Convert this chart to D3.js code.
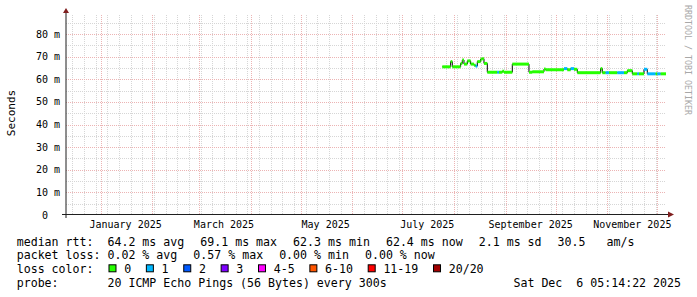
<!DOCTYPE html>
<html>
<head>
<meta charset="utf-8">
<script src="https://cdn.jsdelivr.net/npm/d3@7"></script>
<style>
  body { margin: 0; background: #ffffff; }
  svg text { font-family: "DejaVu Sans Mono", monospace; fill: #000; white-space: pre; }
</style>
</head>
<body>
<div id="chart"></div>
<script>
// median rtt, one entry per run: the value holds until the next start
const runStarts = [
  "2025-07-25", "2025-07-30", "2025-07-31", "2025-08-05", "2025-08-06", "2025-08-07",
  "2025-08-09", "2025-08-11", "2025-08-13", "2025-08-14", "2025-08-15", "2025-08-17",
  "2025-08-18", "2025-08-19", "2025-08-21", "2025-08-27", "2025-08-28", "2025-08-30",
  "2025-08-31", "2025-09-05", "2025-09-15", "2025-09-17", "2025-09-24", "2025-09-25",
  "2025-10-06", "2025-10-08", "2025-10-10", "2025-10-12", "2025-10-14", "2025-10-28",
  "2025-10-29", "2025-10-31", "2025-11-02", "2025-11-07", "2025-11-11", "2025-11-13",
  "2025-11-16", "2025-11-19", "2025-11-20", "2025-11-23", "2025-11-25", "2025-11-30",
  "2025-12-01", "2025-12-03"
];
const medianMs = [
  65.5, 67.8, 65.5, 67.0, 68.5, 66.7,
  68.1, 66.7, 66.2, 65.8, 67.8, 68.9,
  69.1, 67.0, 63.1, 63.1, 63.1, 63.5,
  63.1, 66.7, 63.1, 63.3, 64.5, 64.2,
  64.7, 64.2, 64.7, 64.4, 62.9, 64.7,
  62.9, 62.9, 62.9, 62.9, 62.9, 63.8,
  62.4, 62.4, 62.4, 64.4, 62.4, 62.4,
  62.4, 62.4
];
// pings lost (of 20) in each run
const lostPings = [
  0, 0, 0, 0, 0, 0,
  0, 0, 0, 1, 0, 0,
  0, 0, 0, 1, 0, 0,
  0, 0, 0, 0, 0, 0,
  1, 0, 1, 0, 0, 0,
  0, 1, 0, 1, 0, 0,
  0, 1, 0, 1, 1, 0,
  1, 0
];

const graphStart = "2024-12-11T05:14:22Z";
const graphEnd = "2025-12-06T05:14:22Z";
const yMax = 88.4;

const yTicks = [0, 10, 20, 30, 40, 50, 60, 70, 80];
const yTickLabels = ["0  ", "10 m", "20 m", "30 m", "40 m", "50 m", "60 m", "70 m", "80 m"];
const xLabelMonths = ["2025-01-01", "2025-03-01", "2025-05-01", "2025-07-01", "2025-09-01", "2025-11-01"];
const xTickLabels = ["January 2025", "March 2025", "May 2025", "July 2025", "September 2025", "November 2025"];

const rttStats = [64.2, 69.1, 62.3, 62.4, 2.1];
const rttStatNames = ["avg", "max", "min", "now", "sd"];
const amPerSec = 30.5;
const lossStats = [0.02, 0.57, 0.0, 0.0];
const lossStatNames = ["avg", "max", "min", "now"];
const lossLabels = ["0", "1", "2", "3", "4-5", "6-10", "11-19", "20/20"];
const lossColors = ["#26ff00", "#00b8ff", "#0059ff", "#7e00ff", "#ff00ff", "#ff5500", "#ff0000", "#a10000"];
const probeText = "20 ICMP Echo Pings (56 Bytes) every 300s";
const stampText = "Sat Dec  6 05:14:22 2025";

function lossBucket(n) {
  if (n <= 3) return n;
  if (n <= 5) return 4;
  if (n <= 10) return 5;
  if (n <= 19) return 6;
  return 7;
}

class SmokeGraph {
  constructor(_config) {
    this.config = {
      parentElement: _config.parentElement || "#chart",
      containerWidth: _config.containerWidth || 697,
      containerHeight: _config.containerHeight || 297,
      margin: _config.margin || { top: 15, left: 66, right: 31 },
      plotHeight: 200,
      gridColor: "#d6d6d6",
      majorGridColor: "#ecb4b4",
      arrowColor: "#801f1f",
      axisColor: "#1f1f1f",
    };
    this.init();
  }

  init() {
    let vis = this;
    vis.width = vis.config.containerWidth - vis.config.margin.left - vis.config.margin.right;
    vis.bottom = vis.config.margin.top + vis.config.plotHeight;

    vis.svg = d3
      .select(vis.config.parentElement)
      .append("svg")
      .attr("width", vis.config.containerWidth)
      .attr("height", vis.config.containerHeight);

    vis.svg.append("rect")
      .attr("width", vis.config.containerWidth)
      .attr("height", vis.config.containerHeight)
      .attr("fill", "#ffffff");

    this.update();
  }

  update() {
    let vis = this;
    const cfg = vis.config;
    const left = cfg.margin.left;
    const right = left + vis.width;
    const top = cfg.margin.top;
    const bottom = vis.bottom;

    const t0 = new Date(graphStart);
    const t1 = new Date(graphEnd);

    vis.x = d3.scaleUtc().domain([t0, t1]).range([left, right]);
    vis.y = d3.scaleLinear().domain([0, yMax]).range([bottom, top]);

    const grid = vis.svg.append("g")
      .attr("shape-rendering", "crispEdges")
      .attr("stroke-width", 1)
      .attr("stroke-dasharray", "1,1");

    // minor grid: every 5 ms and every week
    grid.selectAll(".hminor")
      .data(d3.range(5, yMax, 10))
      .join("line")
      .attr("x1", left).attr("x2", right)
      .attr("y1", (d) => Math.round(vis.y(d)) + 0.5)
      .attr("y2", (d) => Math.round(vis.y(d)) + 0.5)
      .attr("stroke", cfg.gridColor);

    grid.selectAll(".vminor")
      .data(d3.utcSunday.range(t0, t1))
      .join("line")
      .attr("x1", (d) => Math.round(vis.x(d)) + 0.5)
      .attr("x2", (d) => Math.round(vis.x(d)) + 0.5)
      .attr("y1", top).attr("y2", bottom)
      .attr("stroke", cfg.gridColor);

    // major grid: every 10 ms and every month
    grid.selectAll(".hmajor")
      .data(yTicks.filter((d) => d > 0))
      .join("line")
      .attr("x1", left).attr("x2", right)
      .attr("y1", (d) => Math.round(vis.y(d)) + 0.5)
      .attr("y2", (d) => Math.round(vis.y(d)) + 0.5)
      .attr("stroke", cfg.majorGridColor);

    grid.selectAll(".vmajor")
      .data(d3.utcMonth.range(t0, t1))
      .join("line")
      .attr("x1", (d) => Math.round(vis.x(d)) + 0.5)
      .attr("x2", (d) => Math.round(vis.x(d)) + 0.5)
      .attr("y1", top).attr("y2", bottom)
      .attr("stroke", cfg.majorGridColor);

    // data: thin black step line under the loss-coloured thick line
    const runs = runStarts.map((s, i) => ({
      start: new Date(s + "T00:00:00Z"),
      end: i < runStarts.length - 1 ? new Date(runStarts[i + 1] + "T00:00:00Z") : t1,
      value: medianMs[i],
      loss: lostPings[i],
    }));

    const stepPoints = runs.map((r) => [r.start, r.value]);
    stepPoints.push([t1, runs[runs.length - 1].value]);

    vis.svg.append("path")
      .datum(stepPoints)
      .attr("fill", "none")
      .attr("stroke", "#000000")
      .attr("stroke-width", 1)
      .attr("d", d3.line()
        .x((d) => vis.x(d[0]))
        .y((d) => vis.y(d[1]))
        .curve(d3.curveStepAfter));

    vis.svg.append("g")
      .selectAll("line")
      .data(runs)
      .join("line")
      .attr("x1", (d) => vis.x(d.start))
      .attr("x2", (d) => vis.x(d.end))
      .attr("y1", (d) => vis.y(d.value))
      .attr("y2", (d) => vis.y(d.value))
      .attr("stroke", (d) => lossColors[lossBucket(d.loss)])
      .attr("stroke-width", 3)
      .attr("stroke-linecap", "butt");

    // axes
    vis.svg.append("line")
      .attr("x1", left - 4).attr("x2", right + 4)
      .attr("y1", bottom - 0.5).attr("y2", bottom - 0.5)
      .attr("stroke", cfg.axisColor);

    vis.svg.append("line")
      .attr("x1", left).attr("x2", left)
      .attr("y1", bottom + 3).attr("y2", top - 4)
      .attr("stroke", cfg.axisColor);

    vis.svg.append("path")
      .attr("d", `M${right + 2},${bottom - 3.5}L${right + 8},${bottom - 0.5}L${right + 2},${bottom + 2.5}Z`)
      .attr("fill", cfg.arrowColor);

    vis.svg.append("path")
      .attr("d", `M${left - 3},${top - 2}L${left},${top - 7}L${left + 3},${top - 2}Z`)
      .attr("fill", cfg.arrowColor);

    // y tick labels
    vis.svg.append("g")
      .selectAll("text")
      .data(yTicks)
      .join("text")
      .attr("x", left - 6)
      .attr("y", (d) => vis.y(d) + 3.6)
      .attr("text-anchor", "end")
      .style("font-size", "10px")
      .text((d, i) => yTickLabels[i]);

    // x labels sit in the middle of their month
    vis.svg.append("g")
      .selectAll("text")
      .data(xLabelMonths)
      .join("text")
      .attr("x", (d) => vis.x(d3.utcDay.offset(new Date(d + "T00:00:00Z"), 15)))
      .attr("y", bottom + 13)
      .attr("text-anchor", "middle")
      .style("font-size", "10px")
      .text((d, i) => xTickLabels[i]);

    // y axis title
    vis.svg.append("text")
      .attr("transform", `translate(15, 113) rotate(-90)`)
      .attr("text-anchor", "middle")
      .style("font-size", "11px")
      .text("Seconds");

    // watermark
    vis.svg.append("text")
      .attr("transform", `translate(685, 5) rotate(90)`)
      .style("font-size", "8.3px")
      .style("fill", "#a8a8a8")
      .text("RRDTOOL / TOBI OETIKER");

    this.renderLegend();
  }

  renderLegend() {
    let vis = this;
    const fs = 11.6;
    const cw = fs * 0.602;
    const x0 = 16.7;
    const col = x0 + 13 * cw;
    const gap = 16;
    const rowsY = [245.5, 259.3, 273.3, 287.3];
    const legend = vis.svg.append("g").style("font-size", fs + "px");

    const addRow = (label, items, yy) => {
      legend.append("text").attr("x", x0).attr("y", yy).text(label);
      let xx = col;
      items.forEach((t) => {
        legend.append("text").attr("x", xx).attr("y", yy).text(t);
        xx += t.length * cw + gap;
      });
    };

    const rttItems = rttStats.map((v, i) => `${v.toFixed(1)} ms ${rttStatNames[i]}`);
    rttItems.push(`${amPerSec.toFixed(1)}   am/s`);
    addRow("median rtt:", rttItems, rowsY[0]);

    const lossItems = lossStats.map((v, i) => `${v.toFixed(2)} % ${lossStatNames[i]}`);
    addRow("packet loss:", lossItems, rowsY[1]);

    // loss colour swatches
    legend.append("text").attr("x", x0).attr("y", rowsY[2]).text("loss color:");
    let bx = col + 1;
    lossLabels.forEach((lab, i) => {
      legend.append("rect")
        .attr("x", bx + 0.5)
        .attr("y", rowsY[2] - 8.5)
        .attr("width", 7)
        .attr("height", 7)
        .attr("fill", lossColors[i])
        .attr("stroke", "#000")
        .attr("stroke-width", 1);
      legend.append("text").attr("x", bx + 15.7).attr("y", rowsY[2]).text(lab);
      bx += 15.7 + lab.length * cw + 14.7;
    });

    addRow("probe:", [probeText], rowsY[3]);
    legend.append("text")
      .attr("x", 681)
      .attr("y", rowsY[3])
      .attr("text-anchor", "end")
      .text(stampText);
  }
}

const graph = new SmokeGraph({ parentElement: "#chart" });
</script>
</body>
</html>
